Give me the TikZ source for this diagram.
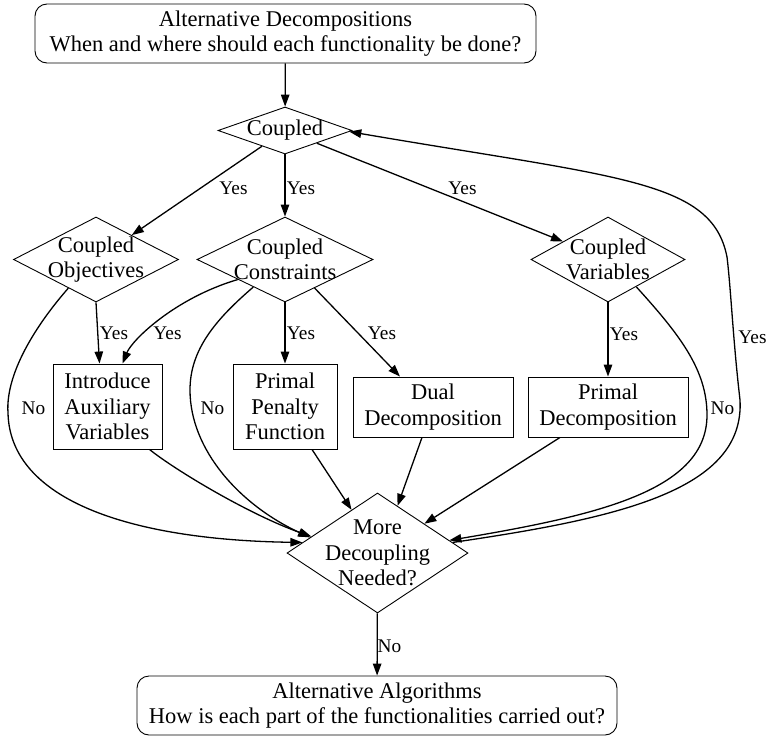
\documentclass[tikz,border=0pt]{standalone}
\usepackage{fontspec}
\setmainfont{Liberation Serif}
\usetikzlibrary{shapes.geometric,arrows.meta}
\begin{document}
\begin{tikzpicture}[x=1pt,y=-1pt,
  nfont/.style={font=\fontsize{22.5}{25.5}\selectfont},
  rbox/.style={draw,line width=0.9pt,rounded corners=12pt,inner sep=0pt,nfont,align=center},
  sbox/.style={draw,line width=0.9pt,inner sep=0pt,nfont,align=center},
  dia/.style={draw,line width=0.9pt,diamond,inner sep=0pt,shape aspect=1},
  nlab/.style={nfont,align=center,inner sep=0pt},
  elab/.style={font=\fontsize{19.3}{22}\selectfont,inner sep=0pt},
  edge/.style={line width=1.3pt,-{Triangle[length=12pt,width=8.5pt]}},
  plain/.style={line width=1.3pt}]
\useasboundingbox (0,0) rectangle (768,736);
% boxes
\node[rbox,minimum width=501pt,minimum height=59pt] (top) at (285.5,33.5)
  {Alternative Decompositions\\When and where should each functionality be done?};
\node[rbox,minimum width=480pt,minimum height=59pt] (bot) at (377,705.5)
  {Alternative Algorithms\\How is each part of the functionalities carried out?};
\node[sbox,minimum width=109pt,minimum height=85pt] (intro) at (107.5,406.5)
  {Introduce\\Auxiliary\\Variables};
\node[sbox,minimum width=104pt,minimum height=85pt] (pen) at (285,406.5)
  {Primal\\Penalty\\Function};
\node[sbox,minimum width=160pt,minimum height=60pt] (dual) at (433,407)
  {Dual\\Decomposition};
\node[sbox,minimum width=160pt,minimum height=60pt] (pdec) at (608,407)
  {Primal\\Decomposition};
% diamonds
\node[dia,minimum width=134pt,minimum height=47pt,
  label={[nlab]center:Coupled}] (coupled) at (285,130.5) {};
\node[dia,minimum width=165pt,minimum height=85pt,
  label={[nlab]center:{Coupled\\Objectives}}] (cobj) at (96,259.5) {};
\node[dia,minimum width=176pt,minimum height=85pt,
  label={[nlab]center:{Coupled\\Constraints}}] (ccon) at (285,259.5) {};
\node[dia,minimum width=154pt,minimum height=85pt,
  label={[nlab]center:{Coupled\\Variables}}] (cvar) at (608,259.5) {};
\node[dia,minimum width=181pt,minimum height=120pt,
  label={[nlab]center:{More\\Decoupling\\Needed?}}] (more) at (377.5,553) {};
% edges
\draw[edge] (top) -- (coupled);
\draw[edge] (coupled) -- (cobj);
\draw[edge] (coupled) -- (ccon);
\draw[edge] (coupled) -- (cvar);
\draw[edge] (cobj.south) -- ([xshift=-8pt]intro.north);
\draw[edge] (ccon.203) .. controls (175,298) and (132,340) .. ([xshift=15pt]intro.north);
\draw[edge] (ccon) -- (pen);
\draw[edge] (ccon.-44) -- ([xshift=-33pt]dual.north);
\draw[edge] (cvar) -- (pdec);
\draw[edge] (cobj.226) .. controls (42,318) and (5,370) .. (8,413)
  .. controls (10,500) and (130,540) .. (more.172);
\draw[edge] ([xshift=42pt]intro.south) .. controls (175,470) and (250,515) .. (more.166);
\draw[edge] (ccon.221) .. controls (215,320) and (190,350) .. (190,390)
  .. controls (190,450) and (240,505) .. (more.167);
\draw[edge] ([xshift=27pt]pen.south) -- (more.121.6);
\draw[edge] ([xshift=-11pt]dual.south) -- (more.67.5);
\draw[edge] ([xshift=-48pt]pdec.south) -- (more.32.3);
\draw[edge] (cvar.-44) .. controls (680,335) and (707,370) .. (707,415)
  .. controls (707,490) and (600,515) .. (more.10.9);
\draw[edge] (more.8) .. controls (620,518) and (745,490) .. (740,400)
  .. controls (733,340) and (731,290) .. (727,257)
  .. controls (712,180) and (620,178) .. (coupled.-1);
\draw[edge] (more) -- (bot);
% edge labels
\node[elab] (y1) at (233.5,188) {Yes};
\node[elab] (y2) at (301,188) {Yes};
\node[elab] (y3) at (462.5,188) {Yes};
\node[elab] (y4) at (114,333) {Yes};
\node[elab] (y5) at (167.5,333) {Yes};
\node[elab] (y6) at (301,333) {Yes};
\node[elab] (y7) at (382,333) {Yes};
\node[elab] (y8) at (624,334) {Yes};
\node[elab] (y9) at (752.5,337) {Yes};
\node[elab] (n1) at (33.5,408) {No};
\node[elab] (n2) at (212.5,408) {No};
\node[elab] (n3) at (722.5,408) {No};
\node[elab] (n4) at (389.5,646) {No};
\end{tikzpicture}
\end{document}
